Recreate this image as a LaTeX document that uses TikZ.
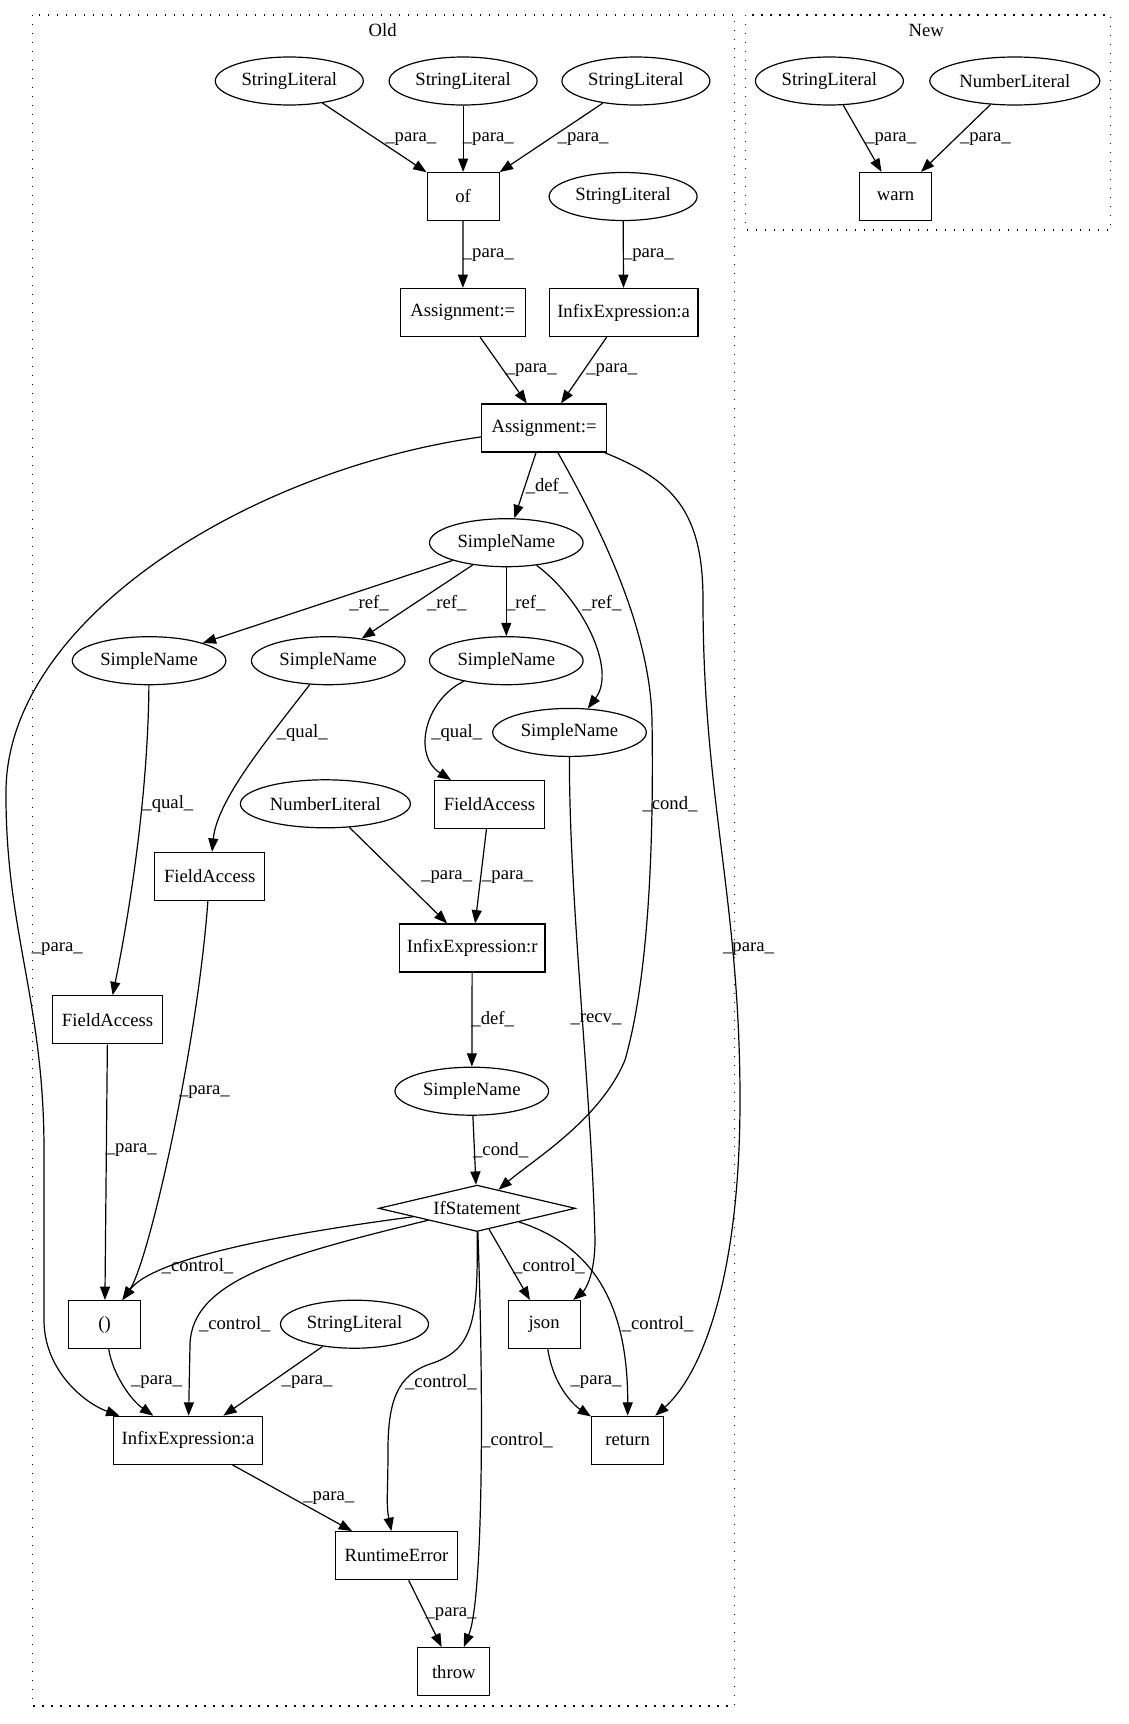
\documentclass[tikz,border=0pt]{standalone}
\usepackage{fontspec}
\setmainfont{Liberation Serif}
\usetikzlibrary{shapes.geometric,arrows.meta}
\begin{document}
\begin{tikzpicture}[x=0.75pt,y=-0.75pt,
  font=\fontsize{14pt}{16pt}\selectfont,
  ell/.style={draw, ellipse, minimum width=111pt, minimum height=36pt, inner sep=0pt, line width=0.9pt},
  numell/.style={ell, minimum width=127.5pt},
  nameell/.style={ell, minimum width=115.2pt},
  box/.style={draw, rectangle, minimum width=54pt, minimum height=36pt, inner sep=0pt, line width=0.9pt},
  dia/.style={draw, diamond, aspect=4.2, minimum width=147.5pt, minimum height=34.8pt, inner sep=0pt, line width=0.9pt},
  lbl/.style={inner sep=0pt},
  arr/.style={-{Triangle[length=10pt,width=7.5pt]}, line width=0.9pt},
  cluster/.style={draw, dash pattern=on 1pt off 5.75pt, line width=0.9pt}]
\useasboundingbox (0,0) rectangle (1128,1724);

% clusters
\draw[cluster] (32.3,15) rectangle (734.6,1706);
\draw[cluster] (745.5,15) rectangle (1110.5,230);
\node[lbl] (toldt) at (382.7,30.5) {Old};
\node[lbl] (tnewt) at (926.2,30.5) {New};

% nodes (Old)
\node[ell] (sl1) at (289.3,81) {StringLiteral};
\node[ell] (sl2) at (463.1,81) {StringLiteral};
\node[ell] (sl3) at (635.9,81) {StringLiteral};
\node[box] (of) at (463.1,196.5) {of};
\node[ell] (sl4) at (623.1,196.5) {StringLiteral};
\node[box, minimum width=94pt] (a1) at (462.8,312.5) {Assignment:=};
\node[box, minimum width=111.5pt] (ia) at (623.6,312.5) {InfixExpression:a};
\node[box, minimum width=94pt] (a2) at (544.1,428) {Assignment:=};
\node[nameell] (sn) at (506.3,542.7) {SimpleName};
\node[nameell] (sna) at (149.1,660.7) {SimpleName};
\node[nameell] (snb) at (328.2,660.7) {SimpleName};
\node[nameell] (snc) at (506.3,660.7) {SimpleName};
\node[nameell] (snd) at (569.5,732.4) {SimpleName};
\node[numell] (nl) at (325.4,803.8) {NumberLiteral};
\node[box, minimum width=82.4pt] (fac) at (489.4,804.6) {FieldAccess};
\node[box, minimum width=82.4pt] (fab) at (209.7,876.4) {FieldAccess};
\node[box, minimum width=109.3pt] (ir) at (472.2,948) {InfixExpression:r};
\node[box, minimum width=82.4pt] (faa) at (107.6,1019.8) {FieldAccess};
\node[nameell] (sne) at (471.8,1091.2) {SimpleName};
\node[dia] (ifs) at (477,1208.3) {IfStatement};
\node[box] (par) at (104.7,1324.6) {()};
\node[ell] (sl5) at (354.5,1324.2) {StringLiteral};
\node[box] (json) at (544.1,1324.6) {json};
\node[box, minimum width=111.5pt] (iab) at (188.1,1440.3) {InfixExpression:a};
\node[box] (ret) at (627.6,1440.3) {return};
\node[box, minimum width=91.5pt] (re) at (396.5,1555.7) {RuntimeError};
\node[box] (thr) at (453.8,1671.6) {throw};

% nodes (New)
\node[ell] (nsl) at (829.4,81) {StringLiteral};
\node[ell, minimum width=127.5pt] (nnl) at (1014.8,81) {NumberLiteral};
\node[box] (warn) at (895.6,196.5) {warn};

% edges
\draw[arr] (sl1) -- (of);
\draw[arr] (sl2) -- (of);
\draw[arr] (sl3) -- (of);
\draw[arr] (nsl) -- (warn);
\draw[arr] (nnl) -- (warn);
\draw[arr] (of) -- (a1);
\draw[arr] (sl4) -- (ia);
\draw[arr] (a1) -- (a2);
\draw[arr] (ia) -- (a2);
\draw[arr] (a2) -- (sn);
\draw[arr] (a2) .. controls (247,470) and (8,620) .. (6,790)
   .. controls (5,930) and (44,1000) .. (44,1150) -- (44,1320)
   .. controls (44,1370) and (84,1403) .. (iab);
\draw[arr] (a2) .. controls (672,480) and (703,510) .. (703,600)
   .. controls (703,800) and (740,900) .. (740,1100)
   .. controls (740,1280) and (701,1375) .. (ret);
\draw[arr] (a2) .. controls (590,510) and (650,620) .. (652,720)
   .. controls (654,850) and (648,980) .. (625,1060)
   .. controls (600,1120) and (533,1160) .. (ifs);
\draw[arr] (sn) -- (sna);
\draw[arr] (sn) -- (snb);
\draw[arr] (sn) -- (snc);
\draw[arr] (sn) .. controls (583,600) and (617,670) .. (snd);
\draw[arr] (sna) .. controls (148,800) and (128,920) .. (faa);
\draw[arr] (snb) .. controls (267,740) and (217,800) .. (fab);
\draw[arr] (snc) .. controls (425,700) and (412,755) .. (fac);
\draw[arr] (nl) -- (ir);
\draw[arr] (fac) -- (ir);
\draw[arr] (ir) -- (sne);
\draw[arr] (sne) -- (ifs);
\draw[arr] (snd) .. controls (569,900) and (592,1100) .. (595,1240)
   .. controls (595,1275) and (585,1290) .. (json);
\draw[arr] (fab) .. controls (197,1050) and (148,1264) .. (par);
\draw[arr] (faa) -- (par);
\draw[arr] (ifs) .. controls (237,1240) and (148,1265) .. (par);
\draw[arr] (ifs) .. controls (286,1255) and (191,1280) .. (190,1345) -- (iab);
\draw[arr] (ifs) .. controls (478,1320) and (474,1350) .. (430,1364)
   .. controls (398,1375) and (388,1400) .. (388,1450)
   .. controls (388,1490) and (386,1505) .. (re);
\draw[arr] (ifs) .. controls (484,1400) and (483,1600) .. (thr);
\draw[arr] (ifs) -- (json);
\draw[arr] (ifs) .. controls (590,1245) and (628,1300) .. (ret);
\draw[arr] (par) .. controls (113,1375) and (131,1400) .. (iab);
\draw[arr] (sl5) -- (iab);
\draw[arr] (json) .. controls (554,1390) and (578,1408) .. (ret);
\draw[arr] (iab) -- (re);
\draw[arr] (re) -- (thr);

% edge labels
\node[lbl] (l1) at (410.8,139.3) {\_para\_};
\node[lbl] (l2) at (488.3,139.3) {\_para\_};
\node[lbl] (l3) at (583.1,139.3) {\_para\_};
\node[lbl] (l4) at (890.7,139.3) {\_para\_};
\node[lbl] (l5) at (985.4,139.3) {\_para\_};
\node[lbl] (l6) at (488.3,255) {\_para\_};
\node[lbl] (l7) at (648.4,255) {\_para\_};
\node[lbl] (l8) at (531.2,370) {\_para\_};
\node[lbl] (l9) at (611.8,370) {\_para\_};
\node[lbl] (l10) at (547,486.6) {\_def\_};
\node[lbl] (l11) at (369.1,602.7) {\_ref\_};
\node[lbl] (l12) at (446.7,602.7) {\_ref\_};
\node[lbl] (l13) at (525.7,602.7) {\_ref\_};
\node[lbl] (l14) at (601.8,602.7) {\_ref\_};
\node[lbl] (l15) at (302.2,733) {\_qual\_};
\node[lbl] (l16) at (456.7,733) {\_qual\_};
\node[lbl] (l17) at (167.9,803.8) {\_qual\_};
\node[lbl] (l18) at (670,803.8) {\_cond\_};
\node[lbl] (l19) at (446.7,877) {\_para\_};
\node[lbl] (l20) at (507.5,877) {\_para\_};
\node[lbl] (l21) at (57.3,948.8) {\_para\_};
\node[lbl] (l22) at (748.5,948.8) {\_para\_};
\node[lbl] (l23) at (492.7,1019.5) {\_def\_};
\node[lbl] (l24) at (596,1019.5) {\_recv\_};
\node[lbl] (l25) at (204.4,1092) {\_para\_};
\node[lbl] (l26) at (131.3,1150.4) {\_para\_};
\node[lbl] (l27) at (500.6,1150.4) {\_cond\_};
\node[lbl] (l28) at (197.5,1266) {\_control\_};
\node[lbl] (l29) at (549,1266) {\_control\_};
\node[lbl] (l30) at (234.8,1324.2) {\_control\_};
\node[lbl] (l31) at (657.6,1324.2) {\_control\_};
\node[lbl] (l32) at (156.5,1382.5) {\_para\_};
\node[lbl] (l33) at (307.1,1382.5) {\_para\_};
\node[lbl] (l34) at (440.9,1382.5) {\_control\_};
\node[lbl] (l35) at (596,1382.5) {\_para\_};
\node[lbl] (l36) at (517,1440) {\_control\_};
\node[lbl] (l37) at (328.8,1498) {\_para\_};
\node[lbl] (l38) at (451,1614) {\_para\_};
\end{tikzpicture}
\end{document}
